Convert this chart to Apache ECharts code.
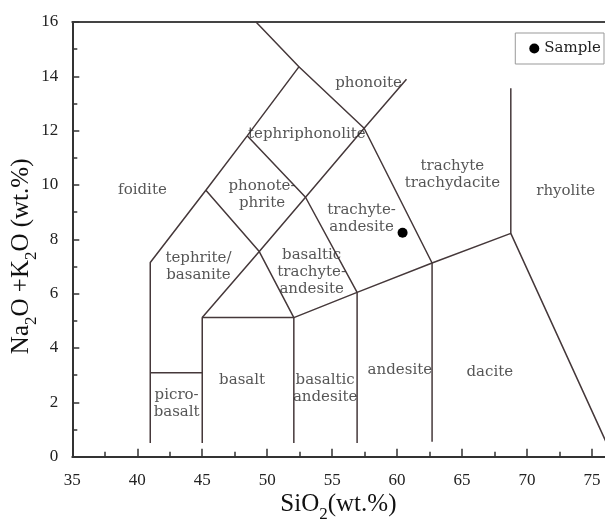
<!DOCTYPE html>
<html>
<head>
<meta charset="utf-8">
<script src="https://cdn.jsdelivr.net/npm/echarts@6/dist/echarts.min.js"></script>
<style>
html, body { margin: 0; padding: 0; background: #fff; }
#main { width: 605px; height: 520px; }
</style>
</head>
<body>
<div id="main"></div>
<script>
// TAS diagram boundaries (SiO2, Na2O+K2O)
var foiditeLine = [[41, 0.5], [41, 7.15], [45.28, 9.81], [48.46, 11.81], [52.44, 14.35], [49.14, 16]];
var picroTop = [[41, 3.09], [45, 3.09]];
var basaltBox = [[45, 0.5], [45, 5.12], [52.05, 5.12], [52.05, 0.5]];
var lowerLine = [[52.05, 5.12], [56.92, 6.05], [62.69, 7.13], [68.75, 8.22], [76.6, 0]];
var line57 = [[56.92, 0.5], [56.92, 6.05]];
var line63 = [[62.69, 0.55], [62.69, 7.13]];
var line69 = [[68.75, 8.22], [68.75, 13.56]];
var midLine = [[45, 5.12], [49.39, 7.55], [52.95, 9.55], [57.46, 12.09], [60.72, 13.89]];
var tephLine = [[45.28, 9.81], [49.39, 7.55], [52.05, 5.12]];
var phonoLine = [[48.46, 11.81], [52.95, 9.55], [56.92, 6.05]];
var upperLine = [[52.44, 14.35], [57.46, 12.09], [62.69, 7.13]];
var boundaries = [foiditeLine, picroTop, basaltBox, lowerLine, line57, line63, line69, midLine, tephLine, phonoLine, upperLine];

var fieldNames = ['foidite', 'phonoite', 'tephriphonolite', 'phonote-\nphrite', 'trachyte-\nandesite',
    'tephrite/\nbasanite', 'basaltic\ntrachyte-\nandesite', 'trachyte\ntrachydacite', 'rhyolite',
    'picro-\nbasalt', 'basalt', 'basaltic\nandesite', 'andesite', 'dacite'];
var fieldX = [40.4, 57.8, 53.05, 49.6, 57.26, 44.71, 53.42, 64.25, 72.97, 43.03, 48.07, 54.46, 60.21, 67.13];
var fieldY = [9.81, 13.76, 11.87, 9.66, 8.75, 7.01, 6.81, 10.4, 9.79, 1.97, 2.82, 2.5, 3.17, 3.11];

var sampleData = [[60.42, 8.24]];

var xTicks = [35, 40, 45, 50, 55, 60, 65, 70, 75];

var lineColor = '#45383a';
var serif = 'DejaVu Serif';
var times = 'Liberation Serif';

var myChart = echarts.init(document.getElementById('main'));

var series = [];
for (var i = 0; i < boundaries.length; i++) {
    series.push({
        type: 'line',
        data: boundaries[i],
        symbol: 'none',
        silent: true,
        lineStyle: { color: lineColor, width: 1.5 },
        z: 2
    });
}

var fieldData = [];
for (var j = 0; j < fieldNames.length; j++) {
    fieldData.push({ name: fieldNames[j], value: [fieldX[j], fieldY[j]] });
}
series.push({
    type: 'scatter',
    data: fieldData,
    symbolSize: 0,
    silent: true,
    label: {
        show: true,
        position: 'inside',
        formatter: function (p) { return p.name; },
        fontFamily: serif,
        fontSize: 15,
        lineHeight: 17,
        color: '#2a2a2a'
    },
    z: 3
});
series.push({
    name: 'Sample',
    type: 'scatter',
    data: sampleData,
    symbol: 'circle',
    symbolSize: 10,
    itemStyle: { color: '#000', opacity: 1 },
    z: 4
});

var titleRich = {
    m: { fontFamily: times, fontSize: 25, color: '#111', padding: [0, 0, 6, 0], verticalAlign: 'bottom' },
    s: { fontFamily: times, fontSize: 17, color: '#111', verticalAlign: 'bottom' }
};

option = {
    animation: false,
    backgroundColor: '#fff',
    grid: { left: 72.3, right: -19.5, top: 22, bottom: 63.3, outerBoundsMode: 'none', containLabel: false },
    legend: {
        data: ['Sample'],
        right: 1,
        top: 33,
        orient: 'vertical',
        icon: 'circle',
        itemWidth: 10,
        itemHeight: 10,
        padding: [8, 3, 8, 14],
        borderColor: '#999',
        borderWidth: 1,
        itemStyle: { opacity: 1 },
        textStyle: { fontFamily: serif, fontSize: 15, color: '#222' }
    },
    xAxis: [
        {
            type: 'value',
            min: 35,
            max: 77.5,
            interval: 5,
            position: 'bottom',
            name: '{m|SiO}{s|2}{m|(wt.%)}',
            nameLocation: 'middle',
            nameGap: 35,
            nameMoveOverlap: false,
            nameTextStyle: { padding: [0, 20, 0, 0], rich: titleRich },
            splitLine: { show: false },
            axisLine: { onZero: false, lineStyle: { color: '#333', width: 2 } },
            axisTick: { inside: true, length: 8, lineStyle: { color: '#333', width: 1.5 } },
            minorTick: { show: true, splitNumber: 2, length: 5, lineStyle: { color: '#333', width: 1.5 } },
            axisLabel: {
                margin: 15,
                fontFamily: times,
                fontSize: 17,
                color: '#222',
                formatter: function (v) { return xTicks.indexOf(v) >= 0 ? String(v) : ''; }
            }
        },
        {
            type: 'value',
            min: 35,
            max: 77.5,
            position: 'top',
            axisLine: { show: true, onZero: false, lineStyle: { color: '#444', width: 2 } },
            axisTick: { show: false },
            axisLabel: { show: false },
            splitLine: { show: false }
        }
    ],
    yAxis: {
        type: 'value',
        min: 0,
        max: 16,
        interval: 2,
        name: '{m|Na}{s|2}{m|O +K}{s|2}{m|O (wt.%)}',
        nameLocation: 'middle',
        nameGap: 32,
        nameMoveOverlap: false,
        nameRotate: 90,
        nameTextStyle: { padding: [0, 34, 0, 0], rich: titleRich },
        splitLine: { show: false },
        axisLine: { show: true, onZero: false, lineStyle: { color: '#333', width: 2 } },
        axisTick: { inside: true, length: 7, lineStyle: { color: '#333', width: 1.5 } },
        minorTick: { show: true, splitNumber: 2, length: 5, lineStyle: { color: '#333', width: 1.5 } },
        axisLabel: { margin: 14, fontFamily: times, fontSize: 17, color: '#222' }
    },
    series: series
};

if (option && typeof option === "object") {
    myChart.setOption(option, true);
}
</script>
</body>
</html>
